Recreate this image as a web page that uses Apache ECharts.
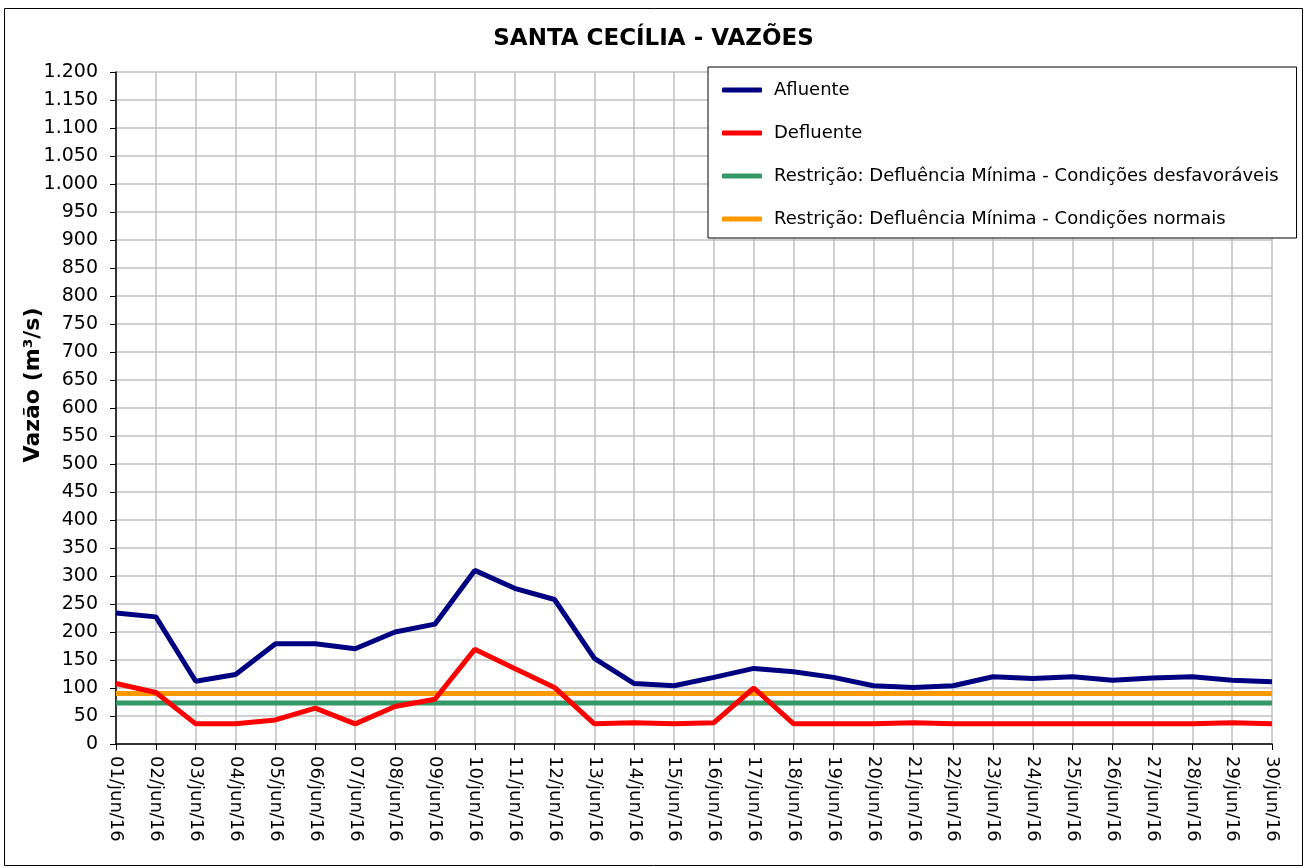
<!DOCTYPE html>
<html><head><meta charset="utf-8">
<script src="https://cdn.jsdelivr.net/npm/echarts@6/dist/echarts.min.js"></script>
<style>html,body{margin:0;padding:0;background:#fff}#c{width:1307px;height:868px}</style>
</head><body><div id="c"></div>
<script>
const categories = ["01/jun/16","02/jun/16","03/jun/16","04/jun/16","05/jun/16","06/jun/16","07/jun/16","08/jun/16","09/jun/16","10/jun/16","11/jun/16","12/jun/16","13/jun/16","14/jun/16","15/jun/16","16/jun/16","17/jun/16","18/jun/16","19/jun/16","20/jun/16","21/jun/16","22/jun/16","23/jun/16","24/jun/16","25/jun/16","26/jun/16","27/jun/16","28/jun/16","29/jun/16","30/jun/16"];
const afluente = [234,227,112,124,179,179,170,200,214,310,278,258,153,108,104,119,135,129,119,104,101,104,120,117,120,114,118,120,114,111];
const defluente = [108,92,36,36,43,64,36,67,80,169,135,101,36,38,36,38,100,36,36,36,38,36,36,36,36,36,36,36,38,36];
const restDesfav = [73,73,73,73,73,73,73,73,73,73,73,73,73,73,73,73,73,73,73,73,73,73,73,73,73,73,73,73,73,73];
const restNormal = [90,90,90,90,90,90,90,90,90,90,90,90,90,90,90,90,90,90,90,90,90,90,90,90,90,90,90,90,90,90];
const seriesNames = ["Afluente","Defluente","Restrição: Defluência Mínima - Condições desfavoráveis","Restrição: Defluência Mínima - Condições normais"];
const colors = ["#000080","#ff0000","#339966","#ff9900"];
const titleText = 'SANTA CECÍLIA - VAZÕES';
const yAxisTitle = 'Vazão (m³/s)';

const F = "'DejaVu Sans', sans-serif";
const chart = echarts.init(document.getElementById('c'));
function fmt(v){ const s = String(v); return s.length>3 ? s.slice(0,s.length-3)+'.'+s.slice(-3) : s; }
const datas = [afluente, defluente, restDesfav, restNormal];
chart.setOption({
  animation:false,
  backgroundColor:'#fff',
  title:{text:titleText, left:'center', top:23, textStyle:{fontFamily:F, fontSize:23, fontWeight:'bold', color:'#000'}},
  graphic:[
    {type:'rect', shape:{x:4.5,y:8.5,width:1298,height:857}, style:{fill:'none', stroke:'#000', lineWidth:1}, silent:true},
    {type:'text', x:33, y:385, rotation:Math.PI/2, style:{text:yAxisTitle, font:"bold 22px 'DejaVu Sans', sans-serif", fill:'#000', textAlign:'center', textVerticalAlign:'middle'}, silent:true}
  ],
  grid:{left:116, right:35, top:72, bottom:124},
  legend:{
    orient:'vertical', left:708, top:67, padding:[14,18,10,14],
    backgroundColor:'#fff', borderColor:'#000', borderWidth:1, borderRadius:0,
    itemWidth:40, itemHeight:5, itemGap:25, icon:'roundRect',
    textStyle:{fontFamily:F, fontSize:18, color:'#000', lineHeight:17, padding:[0,0,0,7]},
    data:seriesNames
  },
  xAxis:{
    type:'category', data:categories, boundaryGap:false,
    axisLine:{lineStyle:{color:'#000', width:1.5}},
    axisTick:{show:true, length:6, interval:0, lineStyle:{color:'#000'}},
    axisLabel:{rotate:-90, interval:0, fontFamily:F, fontSize:18, color:'#000', margin:12},
    splitLine:{show:true, interval:0, lineStyle:{color:'#c0c0c0', width:1.5}}
  },
  yAxis:{
    type:'value', min:0, max:1200, interval:50,
    axisLine:{show:true, lineStyle:{color:'#000', width:1.5}},
    axisTick:{show:true, length:6, lineStyle:{color:'#000'}},
    axisLabel:{formatter:fmt, fontFamily:F, fontSize:19, color:'#000', margin:18},
    splitLine:{show:true, lineStyle:{color:'#c0c0c0', width:1.5}}
  },
  series: seriesNames.map((n,i)=>({
    name:n, type:'line', data:datas[i], symbol:'none', z: i===0?5:(i===1?4:(i===3?3:2)),
    lineStyle:{color:colors[i], width:5}, itemStyle:{color:colors[i]}
  }))
});
</script></body></html>
